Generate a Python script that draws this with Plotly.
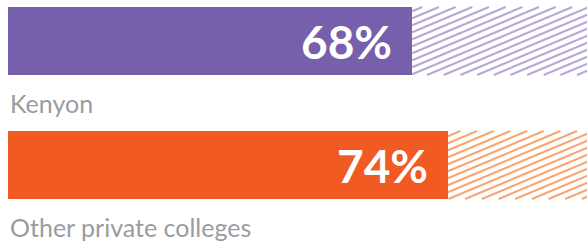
import plotly.graph_objects as go

# ---- data ----
categories = ["Kenyon", "Other private colleges"]
values = [68, 74]
total = 100
value_labels = ["68%", "74%"]
bar_colors = ["#765fab", "#f15a22"]
hatch_colors = ["#b8a6db", "#f8a572"]

# ---- geometry / style ----
W, H = 587, 244
ML = 8
PX_PER_X = 5.945
PX_PER_Y = 124.0
Y0_PX = 41.0
plot_w = W - ML
XMAX = plot_w / PX_PER_X
YTOP = -Y0_PX / PX_PER_Y
YBOT = (H - Y0_PX) / PX_PER_Y
BAR_W = 68.0 / PX_PER_Y
SLOPE = 0.42      # hatch slope in pixels
SPACING = 7.0     # vertical spacing of hatch lines, px

fig = go.Figure()
ypos = list(range(len(categories)))

fig.add_bar(x=values, y=ypos, orientation="h", width=BAR_W,
            marker=dict(color=bar_colors, line_width=0), hoverinfo="skip",
            showlegend=False)
remainder = [total - v for v in values]
fig.add_bar(x=remainder, base=values, y=ypos, orientation="h", width=BAR_W,
            marker=dict(color="rgba(0,0,0,0)", line_width=0), hoverinfo="skip",
            showlegend=False)

# hatch lines for remainder, computed from the bar extents
for i, v in enumerate(values):
    X0, X1 = v * PX_PER_X, total * PX_PER_X
    Yt = (i - BAR_W / 2) * PX_PER_Y
    Yb = (i + BAR_W / 2) * PX_PER_Y
    xs, ys = [], []
    kmin = int((Yt + SLOPE * X0) // SPACING) - 1
    kmax = int((Yb + SLOPE * X1) // SPACING) + 2
    for k in range(kmin, kmax):
        c = k * SPACING
        a = max(X0, (c - Yb) / SLOPE)
        b = min(X1, (c - Yt) / SLOPE)
        if b > a:
            xs += [a / PX_PER_X, b / PX_PER_X, None]
            ys += [(c - SLOPE * a) / PX_PER_Y, (c - SLOPE * b) / PX_PER_Y, None]
    fig.add_scatter(x=xs, y=ys, mode="lines",
                    line=dict(color=hatch_colors[i], width=2),
                    hoverinfo="skip", showlegend=False)

for i, (cat, lab, v) in enumerate(zip(categories, value_labels, values)):
    fig.add_annotation(x=v, y=i, text=lab, showarrow=False,
                       xanchor="right", yanchor="middle", xshift=-18,
                       font=dict(family="Lato", size=46, color="white", weight=700))
    fig.add_annotation(x=0, y=i + 0.5, text=cat, showarrow=False,
                       xanchor="left", yanchor="middle", xshift=0,
                       font=dict(family="Lato", size=25, color="#9a9ca0"))

fig.update_layout(
    width=W, height=H,
    margin=dict(l=ML, r=0, t=0, b=0),
    paper_bgcolor="white", plot_bgcolor="white",
    xaxis=dict(range=[0, XMAX], visible=False, fixedrange=True),
    yaxis=dict(range=[YBOT, YTOP], visible=False, fixedrange=True),
    barmode="overlay",
    bargap=0,
)

fig.write_html("out.html", config={"displayModeBar": False},
               post_script="document.body.style.margin='0';")
